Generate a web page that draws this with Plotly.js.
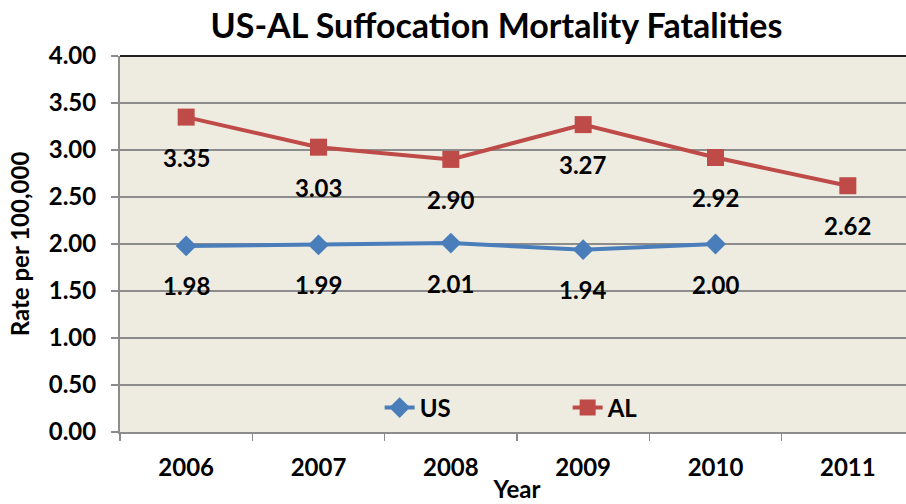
<!DOCTYPE html>
<html>
<head>
<meta charset="utf-8">
<script src="https://cdn.plot.ly/plotly-3.0.1.min.js"></script>
<style>html,body{margin:0;padding:0;overflow:hidden;background:#fff;}</style>
</head>
<body>
<div id="chart"></div>
<script>
const years = [2006, 2007, 2008, 2009, 2010, 2011];
const yearLabels = ["2006", "2007", "2008", "2009", "2010", "2011"];
const usValues = [1.98, 1.99, 2.01, 1.94, 2.00, null];
const alValues = [3.35, 3.03, 2.90, 3.27, 2.92, 2.62];
const yTicks = [0, 0.5, 1, 1.5, 2, 2.5, 3, 3.5, 4];

const FONT = "Lato, 'Open Sans', sans-serif";
const BLUE = "#4A7EBB";
const RED = "#BE4B48";
const AXIS = "#8c8c8c";
const xRange = [years[0] - 0.5, years[years.length - 1] + 0.5];

const traces = [
  {
    x: years, y: usValues, name: "US", type: "scatter", mode: "lines+markers",
    line: {color: BLUE, width: 4},
    marker: {symbol: "diamond", size: 16, color: BLUE},
    connectgaps: false, cliponaxis: false
  },
  {
    x: years, y: alValues, name: "AL", type: "scatter", mode: "lines+markers",
    line: {color: RED, width: 4},
    marker: {symbol: "square", size: 17, color: RED},
    cliponaxis: false
  },
  {
    x: xRange, y: [0, 0], xaxis: "x2", yaxis: "y", type: "scatter", mode: "none",
    showlegend: false, hoverinfo: "skip"
  }
];

const annotations = [];
[usValues, alValues].forEach(series => {
  series.forEach((v, i) => {
    if (v === null) return;
    annotations.push({
      x: years[i], y: v, xref: "x", yref: "y",
      text: "<b>" + v.toFixed(2) + "</b>", showarrow: false, yshift: -40,
      font: {family: FONT, size: 24, color: "#000"}
    });
  });
});

const layout = {
  width: 922, height: 504, autosize: false,
  margin: {l: 120, r: 8, t: 56, b: 72},
  paper_bgcolor: "#ffffff",
  plot_bgcolor: "#EEECE1",
  title: {
    text: "<b>US-AL Suffocation Mortality Fatalities</b>",
    font: {family: FONT, size: 34, color: "#000"},
    xref: "container", yref: "container",
    x: 0.5385, xanchor: "center", y: 0.948, yanchor: "middle"
  },
  xaxis: {
    range: xRange, tickvals: years, ticktext: yearLabels,
    ticks: "",
    showline: true, linecolor: AXIS, linewidth: 2,
    showgrid: false, zeroline: false,
    tickfont: {family: FONT, size: 24, color: "#000", weight: "bold"},
    ticklabelstandoff: 13,
    title: {text: "<b>Year</b>", font: {family: FONT, size: 24, color: "#000"}, standoff: 1},
    fixedrange: true
  },
  xaxis2: {
    overlaying: "x", side: "bottom", anchor: "y",
    range: xRange, tick0: xRange[0], dtick: 1,
    ticks: "outside", ticklen: 8, tickcolor: AXIS, tickwidth: 1.5,
    showticklabels: false, showline: false, showgrid: false, zeroline: false,
    fixedrange: true
  },
  yaxis: {
    range: [0, 4], tickvals: yTicks, tickformat: ".2f",
    ticks: "outside", ticklen: 7, tickcolor: AXIS, tickwidth: 1.5,
    showline: true, linecolor: AXIS, linewidth: 2,
    showgrid: true, gridcolor: AXIS, gridwidth: 1.5,
    zeroline: false,
    tickfont: {family: FONT, size: 24, color: "#000", weight: "bold"},
    ticklabelstandoff: 10,
    title: {text: "<b>Rate per 100,000</b>", font: {family: FONT, size: 24, color: "#000"}, standoff: 12},
    fixedrange: true
  },
  legend: {
    orientation: "h", x: 0.327, xanchor: "left", y: 0.064, yanchor: "middle",
    bgcolor: "rgba(0,0,0,0)",
    font: {family: FONT, size: 24, color: "#000", weight: "bold"},
    entrywidth: 143, entrywidthmode: "pixels",
    tracegroupgap: 0
  },
  shapes: [
    {type: "line", xref: "paper", yref: "paper", x0: 0, x1: 1, y0: 1, y1: 1,
     line: {color: "#222", width: 2}}
  ],
  annotations: annotations,
  showlegend: true
};

Plotly.newPlot("chart", traces, layout, {displayModeBar: false, staticPlot: true});
</script>
</body>
</html>
